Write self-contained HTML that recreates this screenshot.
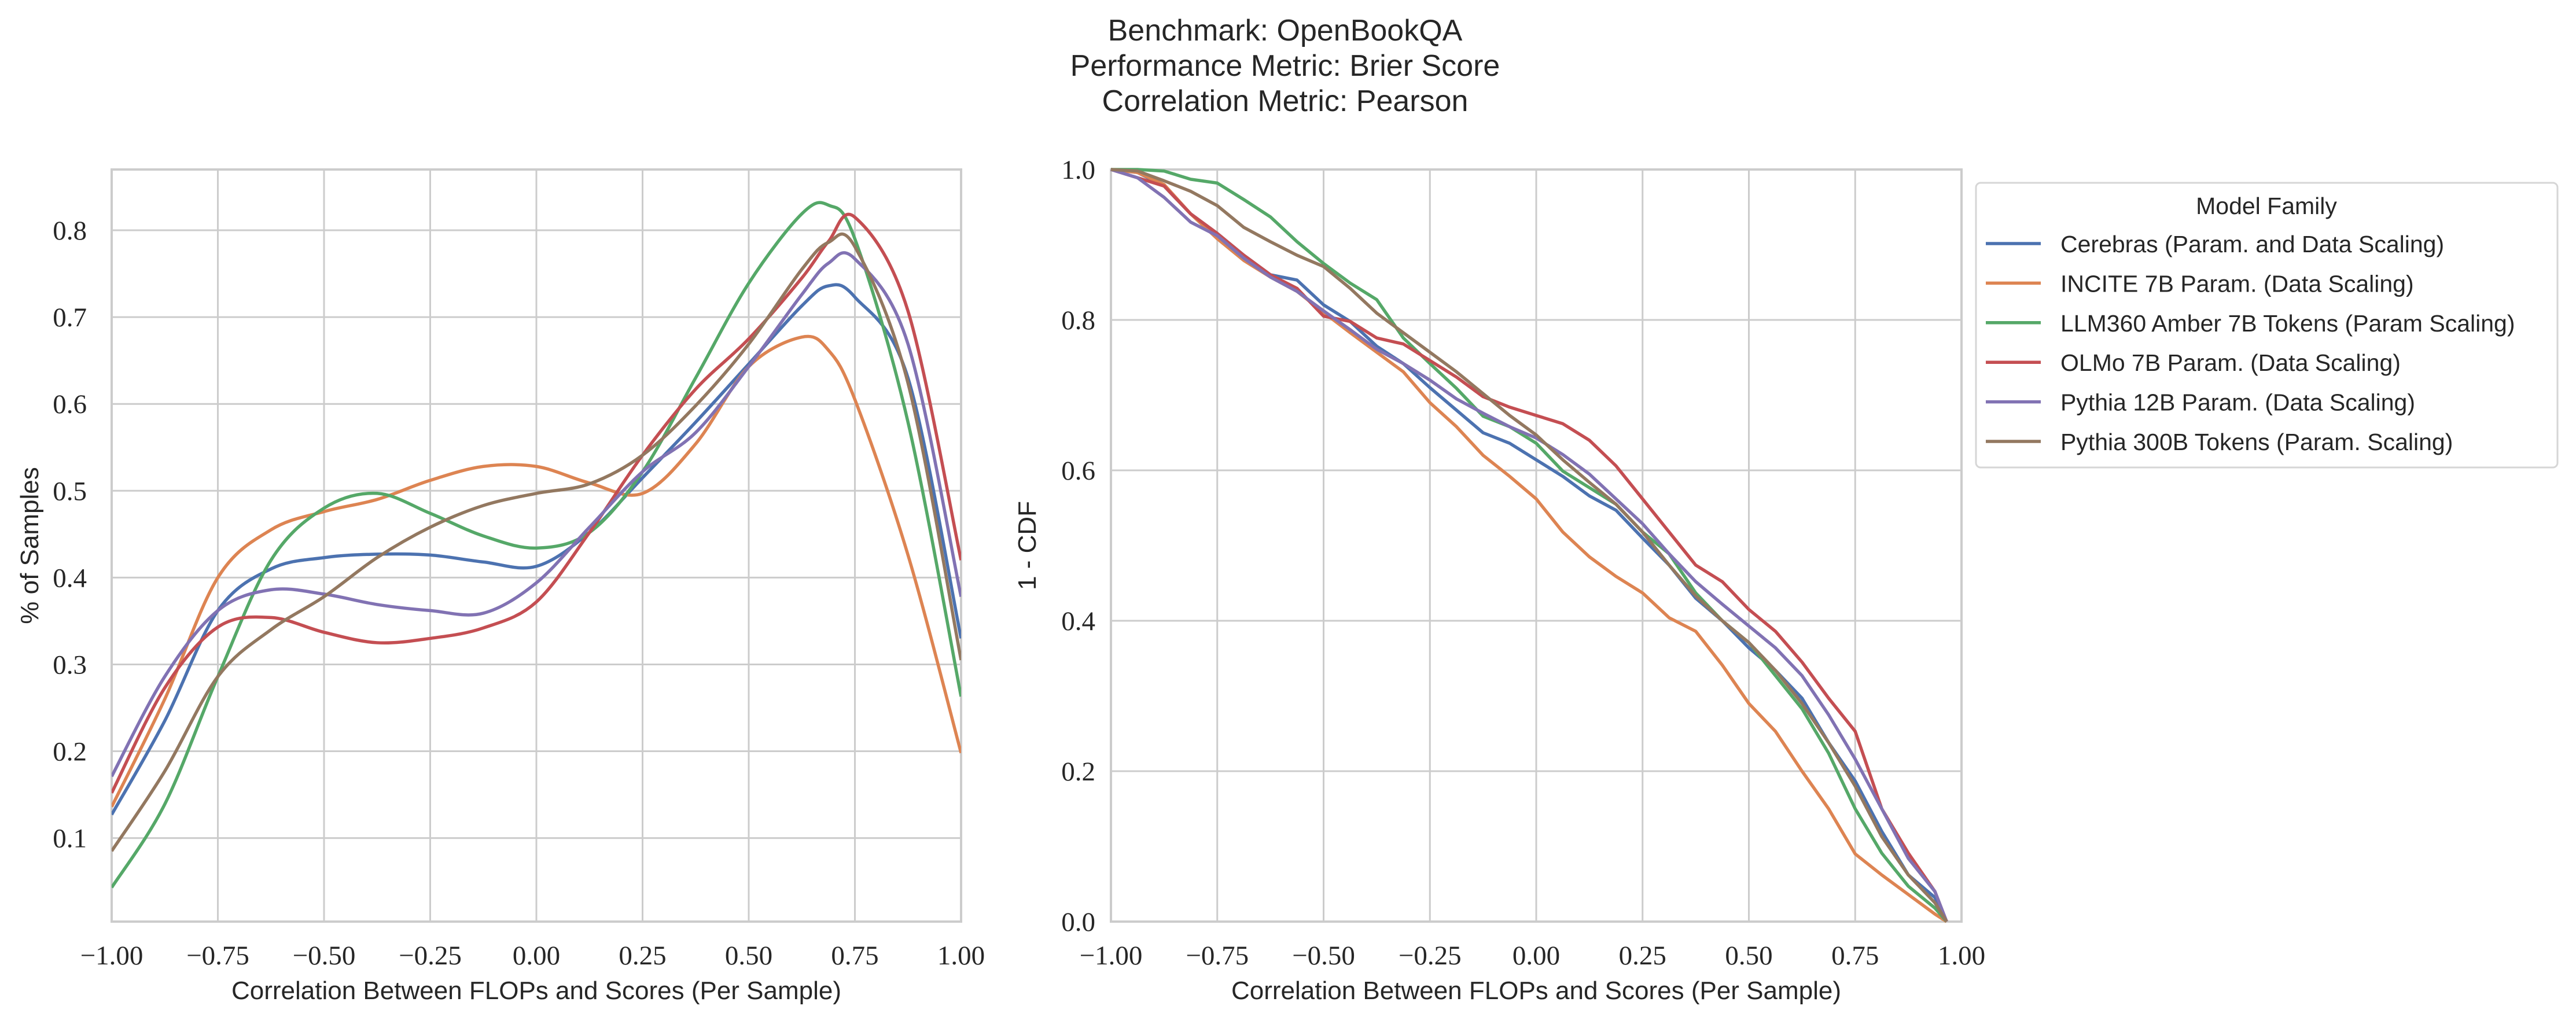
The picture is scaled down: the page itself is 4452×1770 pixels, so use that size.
<!DOCTYPE html>
<html><head><meta charset="utf-8">
<style>
html,body{margin:0;padding:0;background:#fff;}
svg{display:block;}
.tick{font-family:"Liberation Serif","DejaVu Serif",serif;font-size:47px;fill:#262626;}
.lab{font-family:"Liberation Sans","DejaVu Sans",sans-serif;font-size:44px;fill:#262626;}
.ttl{font-family:"Liberation Sans","DejaVu Sans",sans-serif;font-size:52px;fill:#262626;}
.leg{font-family:"Liberation Sans","DejaVu Sans",sans-serif;font-size:41px;fill:#262626;}
</style></head>
<body>
<svg id="fig" width="4452" height="1770" viewBox="0 0 4452 1770" xmlns="http://www.w3.org/2000/svg">
<rect width="4452" height="1770" fill="#fff"/>
<g>
<text class="ttl" x="2221" y="70" text-anchor="middle">Benchmark: OpenBookQA</text>
<text class="ttl" x="2221" y="131" text-anchor="middle">Performance Metric: Brier Score</text>
<text class="ttl" x="2221" y="192" text-anchor="middle">Correlation Metric: Pearson</text>
</g>
<g id="left"></g>
<g id="right"></g>
<g id="legend"></g>
</svg>
<script>
const families = ["Cerebras (Param. and Data Scaling)","INCITE 7B Param. (Data Scaling)","LLM360 Amber 7B Tokens (Param Scaling)","OLMo 7B Param. (Data Scaling)","Pythia 12B Param. (Data Scaling)","Pythia 300B Tokens (Param. Scaling)"];
const colors = ["#4c72b0","#dd8452","#55a868","#c44e52","#8172b3","#937860"];
const xTicks = [-1,-0.75,-0.5,-0.25,0,0.25,0.5,0.75,1];
const xTickLabels = ["\u22121.00","\u22120.75","\u22120.50","\u22120.25","0.00","0.25","0.50","0.75","1.00"];
const kdeYTicks = [0.1,0.2,0.3,0.4,0.5,0.6,0.7,0.8];
const cdfYTicks = [0,0.2,0.4,0.6,0.8,1.0];
// KDE
const kdeX = [-1,-0.875,-0.75,-0.625,-0.5,-0.375,-0.25,-0.125,0,0.125,0.25,0.375,0.5,0.625,0.6875,0.75,0.875,1];
const kdeCerebras = [0.127,0.235,0.362,0.41,0.423,0.427,0.426,0.418,0.413,0.452,0.515,0.579,0.646,0.713,0.736,0.723,0.63,0.33];
const kdeIncite   = [0.136,0.26,0.40,0.455,0.476,0.49,0.512,0.528,0.528,0.509,0.497,0.554,0.643,0.677,0.662,0.605,0.426,0.198];
const kdeAmber    = [0.043,0.139,0.286,0.42,0.48,0.497,0.474,0.448,0.434,0.452,0.522,0.63,0.739,0.819,0.829,0.79,0.579,0.263];
const kdeOlmo     = [0.152,0.273,0.343,0.354,0.337,0.325,0.33,0.342,0.372,0.452,0.541,0.617,0.675,0.745,0.787,0.815,0.707,0.42];
const kdePythia12 = [0.171,0.286,0.362,0.386,0.381,0.369,0.362,0.359,0.394,0.458,0.522,0.567,0.643,0.726,0.762,0.767,0.669,0.378];
const kdePythia300= [0.085,0.177,0.286,0.34,0.378,0.423,0.458,0.483,0.497,0.508,0.541,0.598,0.669,0.755,0.786,0.781,0.624,0.305];
// CDF
const cdfX = [-1,-0.9375,-0.875,-0.8125,-0.75,-0.6875,-0.625,-0.5625,-0.5,-0.4375,-0.375,-0.3125,-0.25,-0.1875,-0.125,-0.0625,0,0.0625,0.125,0.1875,0.25,0.3125,0.375,0.4375,0.5,0.5625,0.625,0.6875,0.75,0.8125,0.875,0.9375,0.965];
const cdfCerebras = [1,0.996,0.978,0.941,0.915,0.886,0.86,0.853,0.82,0.798,0.765,0.742,0.71,0.68,0.65,0.636,0.614,0.592,0.566,0.547,0.51,0.474,0.43,0.4,0.364,0.334,0.297,0.238,0.187,0.12,0.062,0.032,0];
const cdfIncite   = [1,0.996,0.98,0.941,0.908,0.879,0.857,0.838,0.81,0.783,0.757,0.731,0.69,0.658,0.62,0.592,0.562,0.518,0.485,0.459,0.437,0.404,0.386,0.341,0.29,0.253,0.2,0.15,0.09,0.062,0.036,0.01,0];
const cdfAmber    = [1,1,0.998,0.987,0.982,0.96,0.937,0.904,0.875,0.849,0.827,0.776,0.742,0.709,0.672,0.658,0.636,0.599,0.577,0.555,0.518,0.489,0.437,0.4,0.371,0.327,0.283,0.224,0.15,0.091,0.047,0.018,0];
const cdfOlmo     = [1,0.989,0.978,0.941,0.915,0.886,0.86,0.842,0.805,0.798,0.776,0.768,0.746,0.724,0.698,0.684,0.673,0.662,0.64,0.606,0.562,0.518,0.474,0.452,0.415,0.386,0.345,0.297,0.253,0.15,0.091,0.04,0];
const cdfPythia12 = [1,0.989,0.963,0.93,0.912,0.882,0.857,0.838,0.812,0.787,0.761,0.742,0.72,0.695,0.676,0.658,0.643,0.621,0.595,0.562,0.529,0.489,0.452,0.422,0.393,0.364,0.327,0.275,0.216,0.15,0.084,0.04,0];
const cdfPythia300= [1,0.998,0.985,0.971,0.952,0.923,0.904,0.886,0.871,0.842,0.809,0.783,0.757,0.731,0.702,0.673,0.647,0.614,0.584,0.555,0.518,0.474,0.433,0.4,0.371,0.334,0.29,0.238,0.18,0.113,0.062,0.025,0];
const kdeSeries = [kdeCerebras,kdeIncite,kdeAmber,kdeOlmo,kdePythia12,kdePythia300];
const cdfSeries = [cdfCerebras,cdfIncite,cdfAmber,cdfOlmo,cdfPythia12,cdfPythia300];

const NS="http://www.w3.org/2000/svg";
function mk(tag,attrs,parent){const e=document.createElementNS(NS,tag);for(const k in attrs)e.setAttribute(k,attrs[k]);parent.appendChild(e);return e;}
function smooth(pts){let d="M"+pts[0][0]+","+pts[0][1];for(let i=0;i<pts.length-1;i++){const p0=pts[Math.max(0,i-1)],p1=pts[i],p2=pts[i+1],p3=pts[Math.min(pts.length-1,i+2)];const c1=[p1[0]+(p2[0]-p0[0])/6,p1[1]+(p2[1]-p0[1])/6];const c2=[p2[0]-(p3[0]-p1[0])/6,p2[1]-(p3[1]-p1[1])/6];d+=" C"+c1[0]+","+c1[1]+" "+c2[0]+","+c2[1]+" "+p2[0]+","+p2[1];}return d;}

function axes(g,L,R,T,B,ymin,ymax,yTicks,yFmt,labX,ylab,ytickRight){
  const sx=v=>L+(v+1)/2*(R-L);
  const sy=v=>B-(v-ymin)/(ymax-ymin)*(B-T);
  xTicks.forEach((v,i)=>{
    const ln=mk("line",{x1:sx(v),x2:sx(v),y1:T,y2:B,stroke:"#cccccc","stroke-width":3},g);
    
    
    const t=mk("text",{x:sx(v),y:1667,"text-anchor":"middle",class:"tick"},g);t.textContent=xTickLabels[i];
    
    
  });
  yTicks.forEach(v=>{
    const ln=mk("line",{x1:L,x2:R,y1:sy(v),y2:sy(v),stroke:"#cccccc","stroke-width":3},g);
    
    
    const t=mk("text",{x:ytickRight,y:sy(v)+16,"text-anchor":"end",class:"tick"},g);t.textContent=yFmt(v);
    
    
  });
  const fr=mk("rect",{x:L,y:T,width:R-L,height:B-T,fill:"none",stroke:"#cccccc","stroke-width":4},g);
  
  
  const xl=mk("text",{x:(L+R)/2,y:1727,"text-anchor":"middle",class:"lab"},g);xl.textContent="Correlation Between FLOPs and Scores (Per Sample)";
  
  
  const yl=mk("text",{x:0,y:0,"text-anchor":"middle",class:"lab",transform:"translate("+labX+","+((T+B)/2)+") rotate(-90)"},g);yl.textContent=ylab;
  
  
  return [sx,sy];
}
const gl=document.getElementById("left");
const [lx,ly]=axes(gl,193,1661,293,1593,0.0038,0.87,kdeYTicks,v=>v.toFixed(1),66,"% of Samples",150);
const clipL=mk("clipPath",{id:"cl"},gl);mk("rect",{x:193,y:293,width:1468,height:1300},clipL);
kdeSeries.forEach((s,k)=>{
  const pts=kdeX.map((x,i)=>[lx(x),ly(s[i])]);
  const p=mk("path",{d:smooth(pts),fill:"none",stroke:colors[k],"stroke-width":5.5,"clip-path":"url(#cl)"},gl);
  
  
});
const gr=document.getElementById("right");
const [rx,ry]=axes(gr,1920,3390,293,1593,0,1,cdfYTicks,v=>v.toFixed(1),1790,"1 - CDF",1893);
cdfSeries.forEach((s,k)=>{
  let d="";cdfX.forEach((x,i)=>{d+=(i?" L":"M")+rx(x)+","+ry(s[i]);});
  const p=mk("path",{d:d,fill:"none",stroke:colors[k],"stroke-width":5.5,"stroke-linejoin":"round"},gr);
  
  
});
const lg=document.getElementById("legend");
const box=mk("rect",{x:3415,y:316,width:1005,height:492,rx:8,fill:"#fff",stroke:"#d6d6d6","stroke-width":3},lg);


const lt=mk("text",{x:3917,y:370,"text-anchor":"middle",class:"leg"},lg);lt.textContent="Model Family";


families.forEach((f,i)=>{
  const y=421+i*68.4;
  const ln=mk("line",{x1:3432,x2:3527,y1:y,y2:y,stroke:colors[i],"stroke-width":5.5},lg);
  
  
  const t=mk("text",{x:3561,y:y+15,class:"leg"},lg);t.textContent=f;
  
  
});
</script>
</body></html>
